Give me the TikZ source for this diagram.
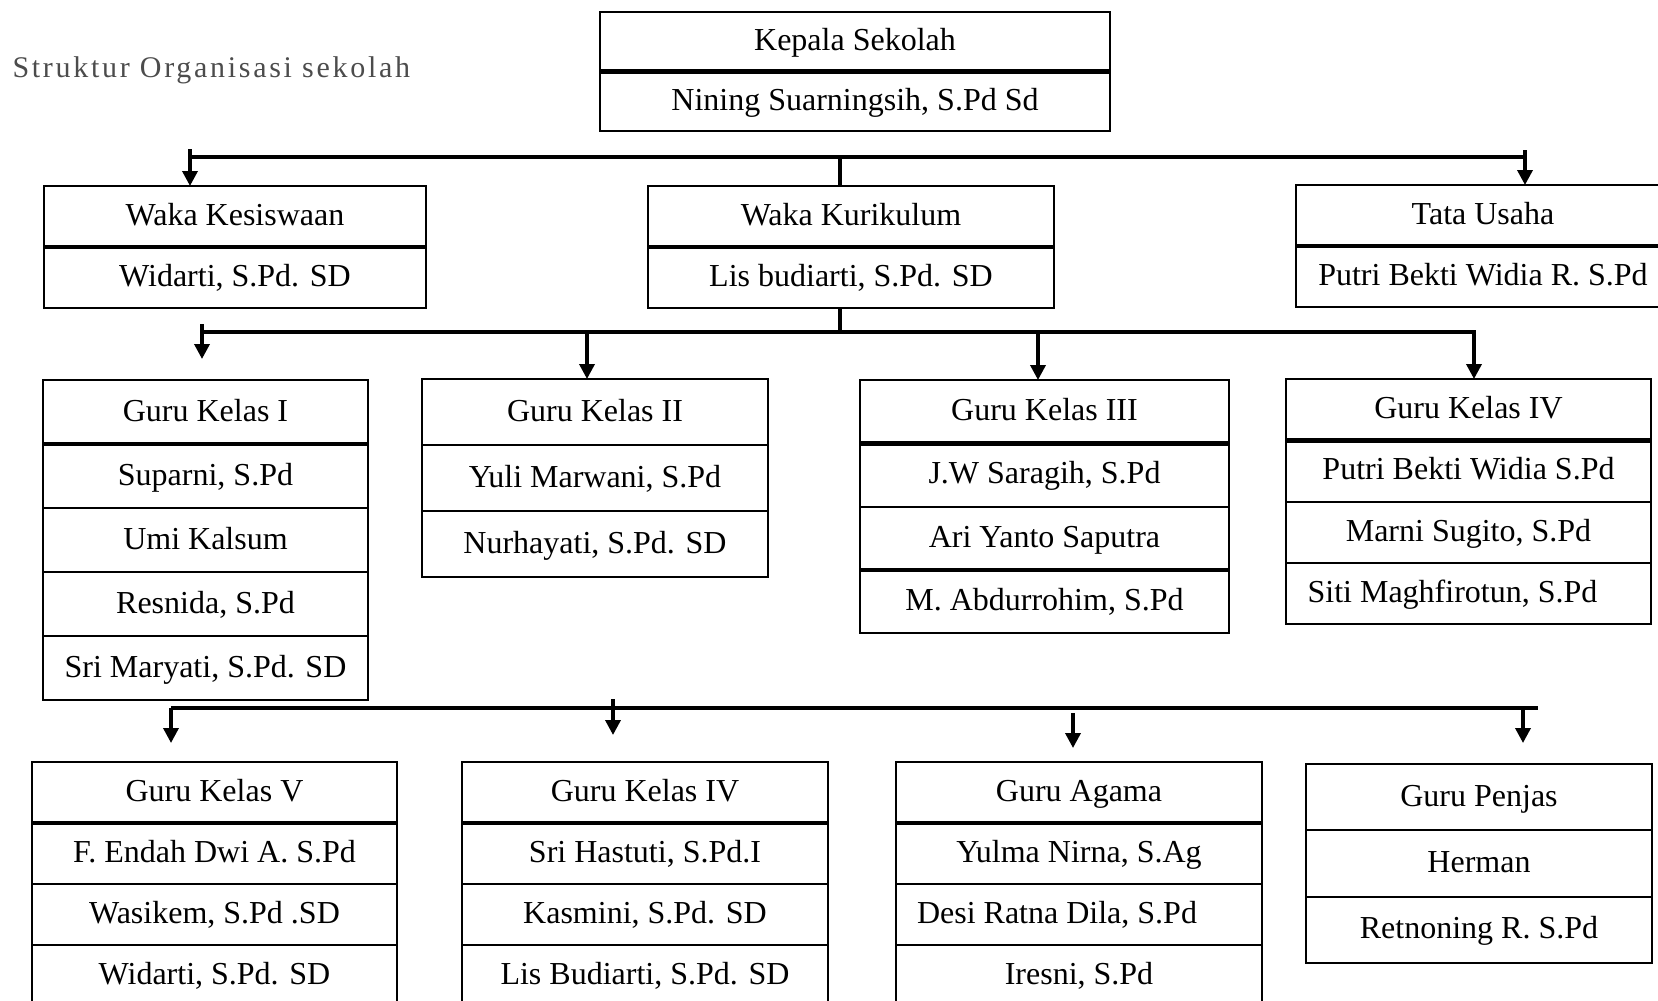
\documentclass[tikz,border=0pt]{standalone}
\usepackage{fontspec}
\setmainfont{Liberation Serif}
\usetikzlibrary{arrows.meta}

% one box of stacked rows: name, x, y (top left), width, row height, rows
\newcommand{\jabatan}[6]{%
	\foreach \isi [count=\i] in {#6}
	\node (#1-\i) [sel, minimum width=#4pt, minimum height=#5pt]
	at (#2, {#3+(\i-1)*#5}) {\isi};
}

\begin{document}
\begin{tikzpicture}[x=1pt, y=-1pt,
		font=\fontsize{32}{38}\selectfont,
		sel/.style={draw, line width=2pt, inner sep=0pt, outer sep=0pt,
			anchor=north west, text height=23pt, text depth=5pt},
		batas/.style={line width=4.5pt},
		garis/.style={line width=3.5pt},
		panah/.style={line width=3.5pt, -{Triangle[length=15pt, width=15pt]}}]
		\useasboundingbox (0,0) rectangle (1658,1001);

		\node (judul) [anchor=base west, text=black!70,
			font=\fontsize{30}{36}\selectfont\addfontfeature{LetterSpace=9}]
		at (9,77) {Struktur Organisasi sekolah};

		% pimpinan
		\jabatan{ks}{600}{12}{510}{59.5}{{Kepala Sekolah}, {Nining Suarningsih, S.Pd Sd}}
		\jabatan{wkes}{44}{186}{382}{61}{{Waka Kesiswaan}, {Widarti, S.Pd. SD}}
		\jabatan{wkur}{648}{186}{406}{61}{{Waka Kurikulum}, {Lis budiarti, S.Pd. SD}}
		\jabatan{tu}{1296}{185}{374}{61}{{Tata Usaha}, {Putri Bekti Widia R. S.Pd}}

		% guru kelas
		\jabatan{gk1}{43}{380}{325}{64}{{Guru Kelas I}, {Suparni, S.Pd}, {Umi Kalsum},
			{Resnida, S.Pd}, {Sri Maryati, S.Pd. SD}}
		\jabatan{gk2}{422}{379}{346}{66}{{Guru Kelas II}, {Yuli Marwani, S.Pd},
			{Nurhayati, S.Pd. SD}}
		\jabatan{gk3}{860}{380}{369}{63.25}{{Guru Kelas III}, {J.W Saragih, S.Pd},
			{Ari Yanto Saputra}, {M. Abdurrohim, S.Pd}}
		\jabatan{gk4}{1286}{379}{365}{61.25}{{Guru Kelas IV}, {Putri Bekti Widia S.Pd},
			{Marni Sugito, S.Pd}, {\hspace*{-32pt}Siti Maghfirotun, S.Pd}}

		\jabatan{gk5}{32}{762}{365}{61}{{Guru Kelas V}, {F. Endah Dwi A. S.Pd},
			{Wasikem, S.Pd .SD}, {Widarti, S.Pd. SD}}
		\jabatan{gk4b}{462}{762}{366}{61}{{Guru Kelas IV}, {Sri Hastuti, S.Pd.I},
			{Kasmini, S.Pd. SD}, {Lis Budiarti, S.Pd. SD}}
		\jabatan{gag}{896}{762}{366}{61}{{Guru Agama}, {Yulma Nirna, S.Ag},
			{\hspace*{-44pt}Desi Ratna Dila, S.Pd}, {Iresni, S.Pd}}
		\jabatan{gpj}{1306}{764}{346}{66.3}{{Guru Penjas}, {Herman}, {Retnoning R. S.Pd}}

		\foreach \n in {ks-1, wkes-1, wkur-1, tu-1, gk1-1, gk3-1, gk3-3, gk4-1,
			gk5-1, gk4b-1, gag-1}
		\draw[batas] (\n.south west) -- (\n.south east);

		% garis atas
		\coordinate (b1a) at (190,157);
		\coordinate (b1b) at (1525,157);
		\coordinate (t1) at (840,157);
		\draw[garis] (b1a) -- (b1b);
		\draw[garis] (t1) -- (t1 |- wkur-1.north);
		\coordinate (p1) at (190,149);
		\coordinate (p2) at (1525,150);
		\draw[panah] (p1) -- (p1 |- wkes-1.north);
		\draw[panah] (p2) -- (p2 |- tu-1.north);

		% garis tengah
		\coordinate (b2a) at (202,332);
		\coordinate (b2b) at (1474,332);
		\coordinate (t2) at (840,332);
		\draw[garis] (wkur-2.south -| t2) -- (t2);
		\draw[panah] (b2a) -- (b2b) -- (b2b |- gk4-1.north);
		\coordinate (p3) at (202,324);
		\coordinate (p4) at (587,332);
		\coordinate (p5) at (1038,332);
		\draw[panah, shorten >=21pt] (p3) -- (p3 |- gk1-1.north);
		\draw[panah] (p4) -- (p4 |- gk2-1.north);
		\draw[panah] (p5) -- (p5 |- gk3-1.north);

		% garis bawah
		\coordinate (b3a) at (171,708);
		\coordinate (b3b) at (1538,708);
		\draw[garis] (b3a) -- (b3b);
		\coordinate (p6) at (613,699);
		\coordinate (p7) at (1073,713);
		\coordinate (p8) at (1523,708);
		\draw[panah, shorten >=19pt] (b3a) -- (b3a |- gk5-1.north);
		\draw[panah, shorten >=27pt] (p6) -- (p6 |- gk4b-1.north);
		\draw[panah, shorten >=14pt] (p7) -- (p7 |- gag-1.north);
		\draw[panah, shorten >=21pt] (p8) -- (p8 |- gpj-1.north);
\end{tikzpicture}
\end{document}
